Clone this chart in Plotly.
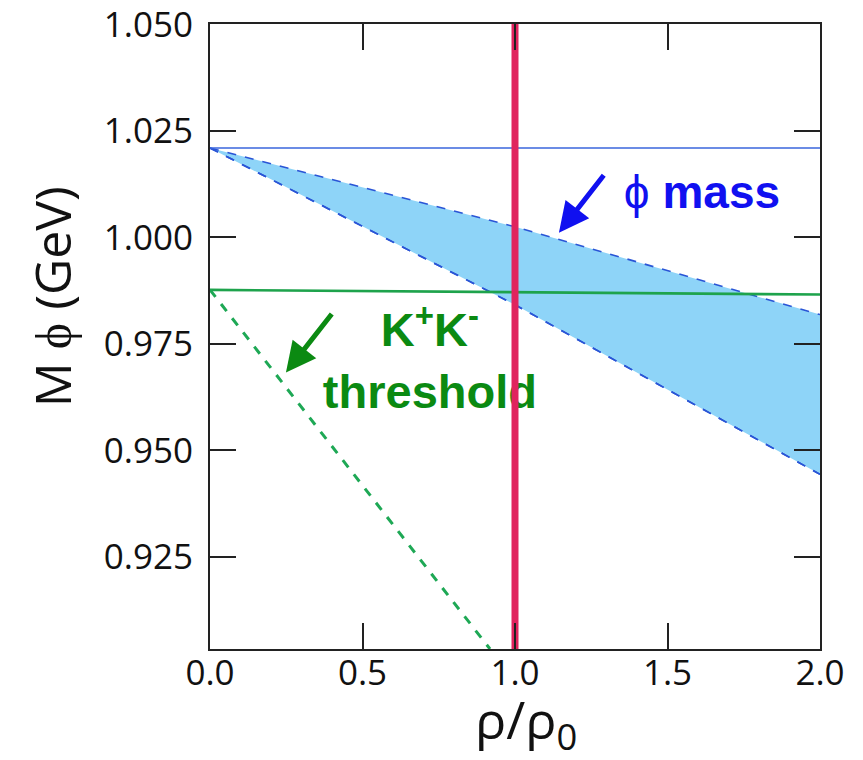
import plotly.graph_objects as go

# ---- data ----
rho = [0.0, 1.0, 2.0]
phi_mass_vacuum = [1.021, 1.021, 1.021]
phi_mass_upper = [1.021, 1.0025, 0.9819]
phi_mass_lower = [1.021, 0.9842, 0.9444]

kk_x = [0.0, 2.0]
kk_threshold = [0.9877, 0.9866]
kk_dashed_x = [0.0, 0.918]
kk_dashed_y = [0.9877, 0.9034]

rho_normal = 1.0

x_ticks = [0.0, 0.5, 1.0, 1.5, 2.0]
x_tick_labels = ["0.0", "0.5", "1.0", "1.5", "2.0"]
y_ticks = [0.925, 0.950, 0.975, 1.000, 1.025, 1.050]
y_tick_labels = ["0.925", "0.950", "0.975", "1.000", "1.025", "1.050"]

x_range = [0.0, 2.0]
y_range = [0.9034, 1.0501]

fig = go.Figure()

# shaded band (lower then upper, fill between)
fig.add_trace(go.Scatter(x=rho, y=phi_mass_lower, mode="lines",
                         line=dict(color="#2a55d6", width=1.6, dash="dash"),
                         hoverinfo="skip", showlegend=False))
fig.add_trace(go.Scatter(x=rho, y=phi_mass_upper, mode="lines",
                         line=dict(color="#2a55d6", width=1.6, dash="dash"),
                         fill="tonexty", fillcolor="#8ed4f8",
                         hoverinfo="skip", showlegend=False))
# redraw lower dashed on top of fill
fig.add_trace(go.Scatter(x=rho, y=phi_mass_lower, mode="lines",
                         line=dict(color="#2a55d6", width=1.6, dash="dash"),
                         hoverinfo="skip", showlegend=False))
# vacuum phi mass
fig.add_trace(go.Scatter(x=rho, y=phi_mass_vacuum, mode="lines",
                         line=dict(color="#3a66dd", width=1.6),
                         hoverinfo="skip", showlegend=False))
# K+K- threshold
fig.add_trace(go.Scatter(x=kk_x, y=kk_threshold, mode="lines",
                         line=dict(color="#1ea34c", width=2.6),
                         hoverinfo="skip", showlegend=False))
fig.add_trace(go.Scatter(x=kk_dashed_x, y=kk_dashed_y, mode="lines",
                         line=dict(color="#1ea855", width=3, dash="dash"),
                         hoverinfo="skip", showlegend=False))

# text labels as text traces (so the red line can be drawn over them)
fig.add_trace(go.Scatter(x=[0.721], y=[0.9700], mode="text",
                         text=["K<sup>+</sup>K<sup>-</sup><br>threshold"],
                         textposition="middle center",
                         textfont=dict(family="Liberation Sans, Arial", size=47,
                                       color="#0b8a12", weight="bold"),
                         hoverinfo="skip", showlegend=False))
fig.add_trace(go.Scatter(x=[1.613], y=[1.0095], mode="text",
                         text=["ϕ <b>mass</b>"],
                         textposition="middle center",
                         textfont=dict(family="Liberation Sans, Arial", size=46,
                                       color="#1010f0"),
                         hoverinfo="skip", showlegend=False))

# normal nuclear density line
fig.add_trace(go.Scatter(x=[rho_normal, rho_normal], y=y_range, mode="lines",
                         line=dict(color="#e0245e", width=7),
                         hoverinfo="skip", showlegend=False))

# arrows
fig.add_annotation(x=1.144, y=1.0011, ax=46, ay=-59, xref="x", yref="y",
                   text="", showarrow=True, arrowhead=2, arrowsize=1.2,
                   arrowwidth=5, arrowcolor="#1010f0")
fig.add_annotation(x=0.249, y=0.9683, ax=47, ay=-60, xref="x", yref="y",
                   text="", showarrow=True, arrowhead=2, arrowsize=1.2,
                   arrowwidth=5, arrowcolor="#0b8a12")

# axis titles as annotations
fig.add_annotation(x=-0.259, y=0.563, xref="paper", yref="paper",
                   text="M ϕ (GeV)", showarrow=False, textangle=-90,
                   font=dict(family="Open Sans", size=50, color="#111"),
                   xanchor="center", yanchor="middle")
fig.add_annotation(x=0.518, y=-0.116, xref="paper", yref="paper",
                   text="ρ/ρ<sub>0</sub>", showarrow=False,
                   font=dict(family="Open Sans", size=52, color="#111"),
                   xanchor="center", yanchor="middle")

axis_common = dict(showgrid=False, zeroline=False, showline=True,
                   linecolor="#222", linewidth=2, mirror="ticks",
                   ticks="inside", ticklen=26, tickwidth=2, tickcolor="#222",
                   automargin=False, ticklabeloverflow="allow",
                   tickfont=dict(family="Open Sans", size=35, color="#111"))

fig.update_xaxes(range=x_range, tickvals=x_ticks, ticktext=x_tick_labels,
                 ticklabelstandoff=-8, **axis_common)
fig.update_yaxes(range=y_range, tickvals=y_ticks, ticktext=y_tick_labels,
                 ticklabelstandoff=8, **axis_common)

# page adds an 8px body margin; compensate so the plot sits where the reference has it
fig.update_layout(width=847, height=744,
                  margin=dict(l=202, r=35, t=16, b=103),
                  plot_bgcolor="white", paper_bgcolor="white",
                  showlegend=False)

fig.write_html("out.html")
